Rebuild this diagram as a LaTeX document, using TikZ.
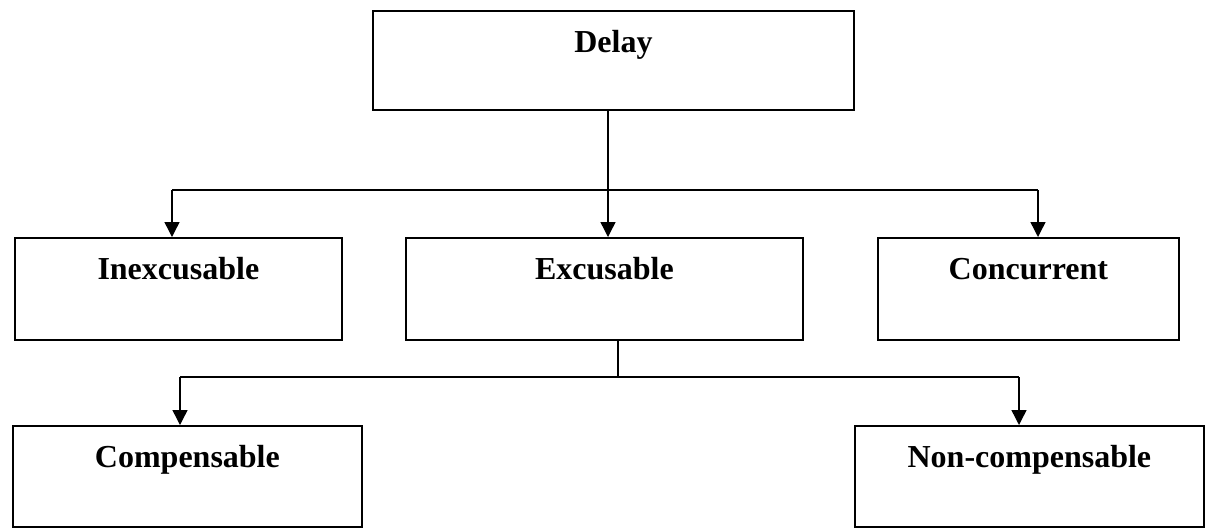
\documentclass[tikz,border=0pt]{standalone}
\usepackage{fontspec}
\setmainfont{Liberation Serif}
\usetikzlibrary{arrows.meta}
\tikzset{
  box/.style={draw,line width=0.9pt,inner sep=0pt,anchor=north west,minimum height=#1},
  boxtext/.style={anchor=base,yshift=-21pt,font=\fontsize{16}{19}\selectfont\bfseries},
  link/.style={line width=0.7pt},
  arr/.style={link,-{Triangle[length=7.5pt,width=7.5pt]}}
}
\begin{document}
\begin{tikzpicture}[x=0.5pt,y=-0.5pt]
    \useasboundingbox (0,0) rectangle (1205,527);
    \clip (0,0) rectangle (1205,527);
    %\draw (0,0) grid (1205,527);
    \node[box=49.5pt,minimum width=240.5pt,label={[boxtext]north:Delay}] (delay) at (372,10) {};
    \node[box=51pt,minimum width=163.5pt,label={[boxtext]north:Inexcusable}] (inex) at (14,237) {};
    \node[box=51pt,minimum width=198.5pt,label={[boxtext]north:Excusable}] (exc) at (405,237) {};
    \node[box=51pt,minimum width=150.5pt,label={[boxtext]north:Concurrent}] (conc) at (877,237) {};
    \node[box=50.5pt,minimum width=174.5pt,label={[boxtext]north:Compensable}] (comp) at (12,425) {};
    \node[box=50.5pt,minimum width=174.5pt,label={[boxtext]north:Non-compensable}] (ncomp) at (854,425) {};
    % first level
    \coordinate (j1) at (608,190);
    \coordinate (j1l) at (172,190);
    \coordinate (j1r) at (1038,190);
    \draw[link] (delay.south -| j1) -- (j1);
    \draw[link] (j1l) -- (j1r);
    \draw[arr] (j1l) -- (j1l |- inex.north);
    \draw[arr] (j1) -- (j1 |- exc.north);
    \draw[arr] (j1r) -- (j1r |- conc.north);
    % second level
    \coordinate (j2) at (618,377);
    \coordinate (j2l) at (180,377);
    \coordinate (j2r) at (1019,377);
    \draw[link] (exc.south -| j2) -- (j2);
    \draw[link] (j2l) -- (j2r);
    \draw[arr] (j2l) -- (j2l |- comp.north);
    \draw[arr] (j2r) -- (j2r |- ncomp.north);
\end{tikzpicture}
\end{document}
